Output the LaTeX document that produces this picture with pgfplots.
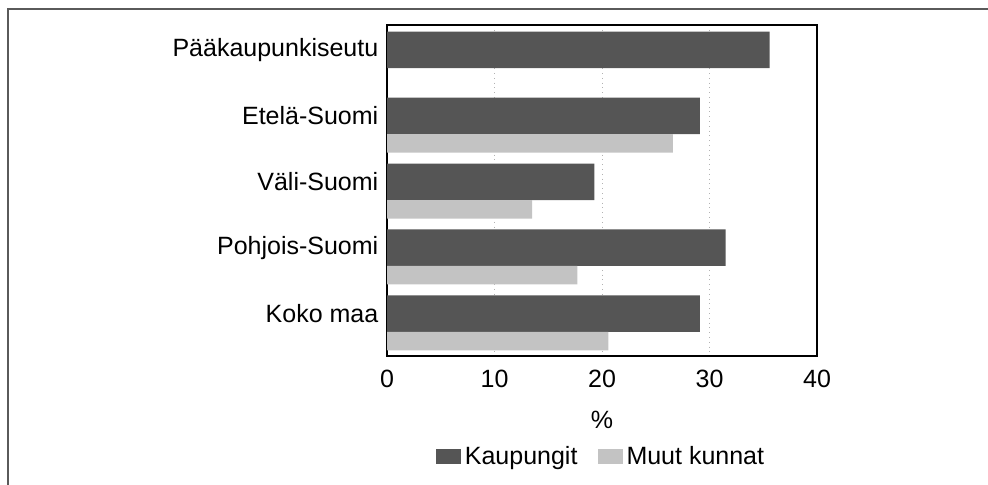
\documentclass[border=0pt]{standalone}
\usepackage{pgfplots}
\pgfplotsset{compat=1.18}
\usepackage{fontspec}
\setmainfont{Liberation Sans}
\definecolor{darkbar}{RGB}{85,85,85}
\definecolor{lightbar}{RGB}{195,195,195}
\definecolor{framecol}{RGB}{90,90,90}
\begin{document}
\fontsize{12.5}{15}\selectfont
\begin{tikzpicture}[x=1pt,y=1pt]
\path[use as bounding box] (0,0) rectangle (494,242.5);
\draw[line width=1pt, framecol] (3.75,0) -- (3.75,237.75) -- (494,237.75);
\begin{axis}[
  at={(193.5pt,64.5pt)}, anchor=south west,
  scale only axis, width=215pt, height=165.5pt,
  xmin=0, xmax=40, ymin=-0.379, ymax=4.643, y dir=reverse,
  ytick={0,1,2,3,4},
  yticklabels={Pääkaupunkiseutu, Etelä-Suomi, Väli-Suomi, Pohjois-Suomi, Koko maa},
  xtick={0,10,20,30,40},
  major tick length=0pt,
  xmajorgrids, grid style={dotted, gray!60},
  axis line style={line width=0.9pt},
  /pgf/number format/assume math mode=true,
  tick label style={font=\fontsize{12.5}{15}\selectfont},
  xticklabel shift=2.5pt,
  xlabel={\%},
  xlabel style={at={(axis description cs:0.5,-0.1934)}, anchor=center},
  legend style={at={(axis description cs:0.5,-0.305)}, anchor=center,
    draw=none, legend columns=2, font=\fontsize{12.5}{15}\selectfont,
    /tikz/every even column/.append style={column sep=8pt}},
]
\addplot[xbar, fill=darkbar, draw=none, bar width=0.554, bar shift=0,
  legend image code/.code={\fill[darkbar] (0pt,-3.75pt) rectangle (12.5pt,3.75pt);}]
  coordinates {(35.6,0) (29.1,1) (19.3,2) (31.5,3) (29.1,4)};
\addlegendentry{Kaupungit}
\addplot[xbar, fill=lightbar, draw=none, bar width=0.28, bar shift=0.417,
  legend image code/.code={\fill[lightbar] (0pt,-3.75pt) rectangle (12.5pt,3.75pt);}]
  coordinates {(26.6,1) (13.5,2) (17.7,3) (20.6,4)};
\addlegendentry{Muut kunnat}
\end{axis}
\end{tikzpicture}
\end{document}
